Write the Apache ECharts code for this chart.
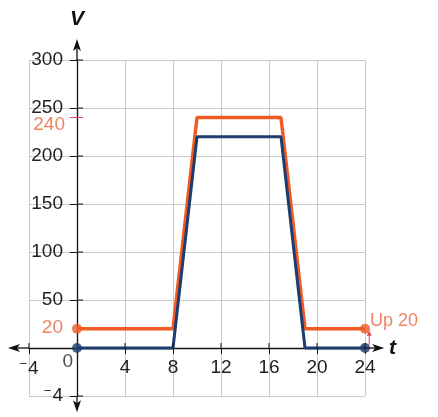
<!DOCTYPE html>
<html><head><meta charset="utf-8">
<script src="https://cdn.jsdelivr.net/npm/echarts@6/dist/echarts.min.js"></script>
<style>html,body{margin:0;padding:0;background:#fff}#c{width:438px;height:417px}</style>
</head><body><div id="c"></div>
<script>
const tVals = [0, 8, 10, 17, 19, 24];
const orangeV = [20, 20, 240, 240, 20, 20];
const blueV = [0, 0, 220, 220, 0, 0];
const xTicks = [-4, 0, 4, 8, 12, 16, 20, 24];
const yTicks = [-50, 0, 50, 100, 150, 200, 250, 300];
const xTickLabels = {'-4':'{m|−}4','0':'','4':'4','8':'8','12':'12','16':'16','20':'20','24':'24'};
const yTickLabels = {'-50':'{m|−}4','0':'','50':'50','100':'100','150':'150','200':'200','250':'250','300':'300'};
const endPointsT = [0, 24];

const ORANGE = '#f15a24', BLUE = '#1c3d6e', TXTOR = '#e8643c';
const chart = echarts.init(document.getElementById('c'));
const font = 'Liberation Sans, Arial, sans-serif';
const rich = {m: {fontSize: 13, color: '#222', fontFamily: font, padding: [0, 1, 9, 0]}};
chart.setOption({
  animation: false,
  grid: {left: 29, right: 73, top: 60, bottom: 21, containLabel: false},
  xAxis: {
    type: 'value', min: -4, max: 24, interval: 4, offset: -48,
    name: 't', nameGap: 24,
    nameTextStyle: {fontSize: 21, fontStyle: 'italic', fontWeight: 'bold', color: '#111', fontFamily: font, verticalAlign: 'middle'},
    axisLine: {onZero: false, lineStyle: {color: '#111', width: 1.3}},
    axisTick: {show: true, length: 6, inside: false, lineStyle: {color: '#111'}},
    axisLabel: {fontSize: 19, color: '#222', fontFamily: font, margin: 10, rich: rich, formatter: v => xTickLabels[v] ?? String(v)},
    splitLine: {show: true, lineStyle: {color: '#c9c9c9', width: 1}}
  },
  yAxis: {
    type: 'value', min: -50, max: 300, interval: 50, offset: -48,
    name: 'V', nameGap: 30,
    nameTextStyle: {fontSize: 21, fontStyle: 'italic', fontWeight: 'bold', color: '#111', fontFamily: font},
    axisLine: {onZero: false, lineStyle: {color: '#111', width: 1.3}},
    axisTick: {show: true, length: 7, lineStyle: {color: '#111'}},
    axisLabel: {fontSize: 19, color: '#222', fontFamily: font, margin: 14, rich: rich, formatter: v => yTickLabels[v] ?? String(v)},
    splitLine: {show: true, lineStyle: {color: '#c9c9c9', width: 1}}
  },
  series: [
    {
      type: 'line', name: 'orange', data: tVals.map((t, i) => [t, orangeV[i]]),
      showSymbol: false, lineStyle: {color: ORANGE, width: 3.5}, itemStyle: {color: ORANGE}, z: 3
    },
    {
      type: 'line', name: 'blue', data: tVals.map((t, i) => [t, blueV[i]]),
      showSymbol: false, lineStyle: {color: BLUE, width: 3}, itemStyle: {color: BLUE}, z: 4
    },
    {
      type: 'scatter', data: endPointsT.map(t => [t, orangeV[tVals.indexOf(t)]]),
      symbolSize: 10, itemStyle: {color: ORANGE}, z: 5
    },
    {
      type: 'scatter', data: endPointsT.map(t => [t, blueV[tVals.indexOf(t)]]),
      symbolSize: 10, itemStyle: {color: BLUE}, z: 6
    },
    {
      type: 'scatter', symbolSize: 0, silent: true, z: 7, clip: false,
      data: [
        {value: [0, 240], label: {show: true, formatter: '240', position: 'left', distance: 12, offset: [0, 7], color: TXTOR, fontSize: 19, fontFamily: font}},
        {value: [0, 20], label: {show: true, formatter: '20', position: 'left', distance: 14, offset: [0, -1], color: TXTOR, fontSize: 19, fontFamily: font}},
        {value: [0, 0], label: {show: true, formatter: '0', position: 'left', distance: 4, offset: [0, 14], color: '#222', fontSize: 19, fontFamily: font}},
        {value: [24, 20], label: {show: true, formatter: 'Up 20', position: 'right', distance: 5, offset: [0, -8], color: TXTOR, fontSize: 18, fontFamily: font}}
      ],
      markLine: {
        silent: true, label: {show: false}, symbol: 'none',
        data: [
          [{coord: [-0.6, 240]}, {coord: [0.5, 240]}]
        ],
        lineStyle: {color: '#e8405a', width: 1, type: 'solid'}
      }
    }
  ]
});

// axis extension arrows and inner tick halves, positioned from the chart's own scales
const P = (x, y) => chart.convertToPixel({gridIndex: 0}, [x, y]);
const o = P(0, 0);
const xl = P(-5.75, 0)[0], xr = P(25.6, 0)[0];
const yt = P(0, 322)[1], yb = P(0, -67)[1];
const gx0 = P(-4, 0)[0], gx1 = P(24, 0)[0];
const gy0 = P(0, 300)[1], gy1 = P(0, -50)[1];
const ua = P(24.35, 3), ub = P(24.35, 18);
const st = {stroke: '#111', lineWidth: 1.3};
const aw = 4, al = 12;
const g = [
  {type: 'line', shape: {x1: xl + 4, y1: o[1], x2: gx0, y2: o[1]}, style: st, z: 10},
  {type: 'line', shape: {x1: gx1, y1: o[1], x2: xr - 4, y2: o[1]}, style: st, z: 10},
  {type: 'line', shape: {x1: o[0], y1: yt + 4, x2: o[0], y2: gy0}, style: st, z: 10},
  {type: 'line', shape: {x1: o[0], y1: gy1, x2: o[0], y2: yb - 4}, style: st, z: 10},
  {type: 'polygon', shape: {points: [[xl, o[1]], [xl + al, o[1] - aw], [xl + al - 3, o[1]], [xl + al, o[1] + aw]]}, style: {fill: '#111'}, z: 10},
  {type: 'polygon', shape: {points: [[xr, o[1]], [xr - al, o[1] - aw], [xr - al + 3, o[1]], [xr - al, o[1] + aw]]}, style: {fill: '#111'}, z: 10},
  {type: 'polygon', shape: {points: [[o[0], yt], [o[0] - aw, yt + al], [o[0], yt + al - 3], [o[0] + aw, yt + al]]}, style: {fill: '#111'}, z: 10},
  {type: 'polygon', shape: {points: [[o[0], yb], [o[0] - aw, yb - al], [o[0], yb - al + 3], [o[0] + aw, yb - al]]}, style: {fill: '#111'}, z: 10},
  {type: 'line', shape: {x1: ua[0], y1: ua[1], x2: ub[0], y2: ub[1] + 3}, style: {stroke: '#e8405a', lineWidth: 1}, z: 10},
  {type: 'polygon', shape: {points: [[ub[0], ub[1]], [ub[0] - 2.5, ub[1] + 5], [ub[0] + 2.5, ub[1] + 5]]}, style: {fill: '#e8405a'}, z: 10}
];
yTicks.forEach(v => { if (v === 0) return; const p = P(0, v); g.push({type: 'line', shape: {x1: p[0], y1: p[1], x2: p[0] + 6, y2: p[1]}, style: {stroke: '#111', lineWidth: 1}, z: 9}); });
xTicks.forEach(v => { if (v === 0) return; const p = P(v, 0); g.push({type: 'line', shape: {x1: p[0], y1: p[1], x2: p[0], y2: p[1] - 5}, style: {stroke: '#111', lineWidth: 1}, z: 9}); });
chart.setOption({graphic: g});
</script></body></html>
